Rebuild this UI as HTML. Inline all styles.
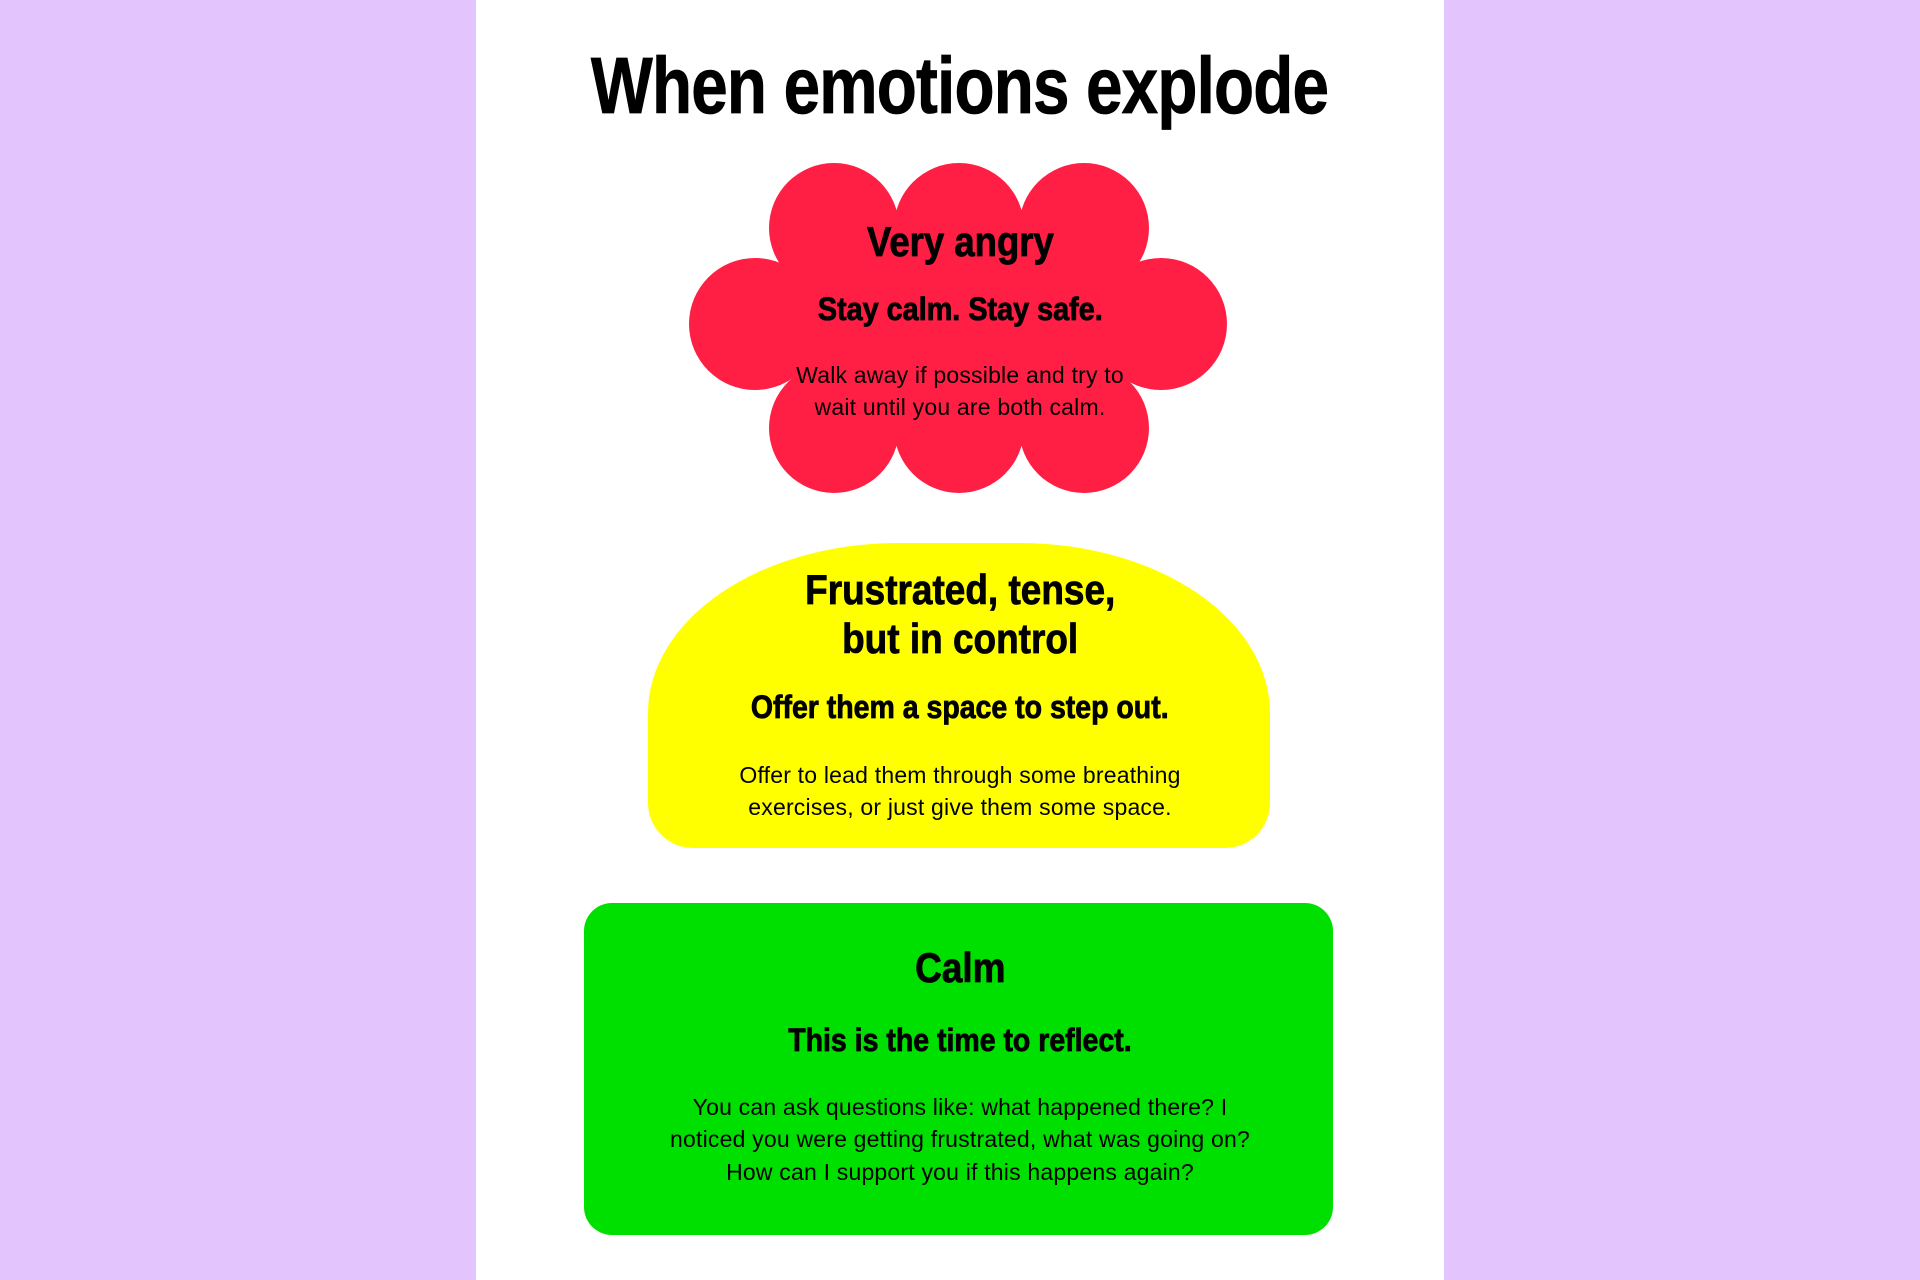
<!DOCTYPE html>
<html><head><meta charset="utf-8"><style>
html,body{margin:0;padding:0}
body{width:1920px;height:1280px;background:#e4c4fc;position:relative;overflow:hidden;font-family:"Liberation Sans",sans-serif;color:#000}
.panel{position:absolute;left:476px;top:0;width:968px;height:1280px;background:#fff}
.l{position:absolute;left:0;width:1920px;text-align:center;white-space:nowrap}
.l span{display:inline-block;transform-origin:center}
.h{font-weight:bold;-webkit-text-stroke:0.8px #000}
.b{font-size:23px;line-height:23px;letter-spacing:0.2px}
</style></head><body>
<div class="panel"></div>
<svg style="position:absolute;left:0;top:0" width="1920" height="1280">
<g fill="#ff1f45">
<circle cx="834" cy="228" r="65"/><circle cx="959" cy="228" r="65"/><circle cx="1084" cy="228" r="65"/>
<circle cx="834" cy="428" r="65"/><circle cx="959" cy="428" r="65"/><circle cx="1084" cy="428" r="65"/>
<circle cx="755" cy="324" r="66"/><circle cx="1161" cy="324" r="66"/>
<rect x="834" y="228" width="250" height="200"/>
<rect x="755" y="275" width="406" height="100"/>
</g>
</svg>
<div style="position:absolute;left:648px;top:543px;width:622px;height:305px;background:#ffff00;border-radius:250px 250px 45px 45px / 170px 170px 45px 45px"></div>
<div style="position:absolute;left:584px;top:903px;width:749px;height:332px;background:#00e000;border-radius:28px"></div>

<div class="l h" style="top:46px;font-size:80px;line-height:80px"><span style="transform:scaleX(0.82);letter-spacing:-1px">When emotions explode</span></div>

<div class="l h" style="top:221px;font-size:42px;line-height:42px"><span style="transform:scaleX(0.87)">Very angry</span></div>
<div class="l h" style="top:293px;font-size:32px;line-height:32px"><span style="transform:scaleX(0.9)">Stay calm. Stay safe.</span></div>
<div class="l b" style="top:364px"><span>Walk away if possible and try to</span></div>
<div class="l b" style="top:396px"><span>wait until you are both calm.</span></div>

<div class="l h" style="top:569px;font-size:42px;line-height:42px"><span style="transform:scaleX(0.88)">Frustrated, tense,</span></div>
<div class="l h" style="top:618px;font-size:42px;line-height:42px"><span style="transform:scaleX(0.88)">but in control</span></div>
<div class="l h" style="top:691px;font-size:32px;line-height:32px"><span style="transform:scaleX(0.89)">Offer them a space to step out.</span></div>
<div class="l b" style="top:764px"><span>Offer to lead them through some breathing</span></div>
<div class="l b" style="top:796px"><span>exercises, or just give them some space.</span></div>

<div class="l h" style="top:947px;font-size:42px;line-height:42px"><span style="transform:scaleX(0.88)">Calm</span></div>
<div class="l h" style="top:1024px;font-size:32px;line-height:32px"><span style="transform:scaleX(0.89)">This is the time to reflect.</span></div>
<div class="l b" style="top:1096px"><span>You can ask questions like: what happened there? I</span></div>
<div class="l b" style="top:1128px"><span>noticed you were getting frustrated, what was going on?</span></div>
<div class="l b" style="top:1161px"><span>How can I support you if this happens again?</span></div>
</body></html>
